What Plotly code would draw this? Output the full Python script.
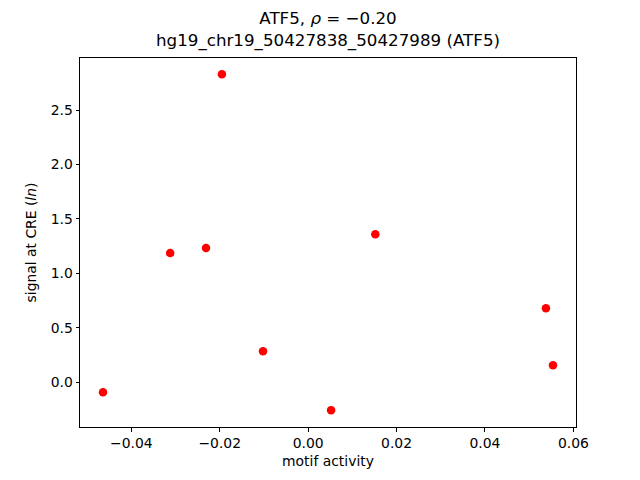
import plotly.graph_objects as go

motif_activity = [-0.0464, -0.0312, -0.0231, -0.0195, -0.0102, 0.0052, 0.0152, 0.0538, 0.0554]
signal = [-0.092, 1.186, 1.232, 2.83, 0.285, -0.257, 1.36, 0.68, 0.156]
x_ticks = [-0.04, -0.02, 0.0, 0.02, 0.04, 0.06]
x_tick_labels = ["\u22120.04", "\u22120.02", "0.00", "0.02", "0.04", "0.06"]
y_ticks = [0.0, 0.5, 1.0, 1.5, 2.0, 2.5]
y_tick_labels = ["0.0", "0.5", "1.0", "1.5", "2.0", "2.5"]

font = "DejaVu Sans"
fig = go.Figure(go.Scatter(
    x=motif_activity, y=signal, mode="markers",
    marker=dict(color="red", size=8.5, line=dict(width=0)),
))
axis_common = dict(
    showgrid=False, zeroline=False, showline=True, linecolor="black", linewidth=1,
    mirror=True, ticks="outside", ticklen=3.5, tickwidth=1, tickcolor="black",
    tickfont=dict(family=font, size=13.9, color="black"),
)
fig.update_xaxes(range=[-0.0516, 0.0606], tickvals=x_ticks, ticktext=x_tick_labels,
                 title=dict(text="motif activity", font=dict(family=font, size=13.9, color="black"), standoff=6),
                 **axis_common)
fig.update_yaxes(range=[-0.412, 2.979], tickvals=y_ticks, ticktext=y_tick_labels,
                 title=dict(text="signal at CRE (<i>ln</i>)", font=dict(family=font, size=13.9, color="black"), standoff=10),
                 **axis_common)
fig.update_layout(
    width=640, height=480, plot_bgcolor="white", paper_bgcolor="white",
    margin=dict(l=72, r=72, t=50, b=61, pad=0),
    showlegend=False,
    annotations=[dict(
        text="ATF5, <i>\u03c1</i> = \u22120.20<br>hg19_chr19_50427838_50427989 (ATF5)",
        xref="paper", yref="paper", x=0.5, y=1, yshift=5, xanchor="center", yanchor="bottom",
        showarrow=False, font=dict(family=font, size=16.7, color="black"),
    )],
)
fig.write_html("out.html")
